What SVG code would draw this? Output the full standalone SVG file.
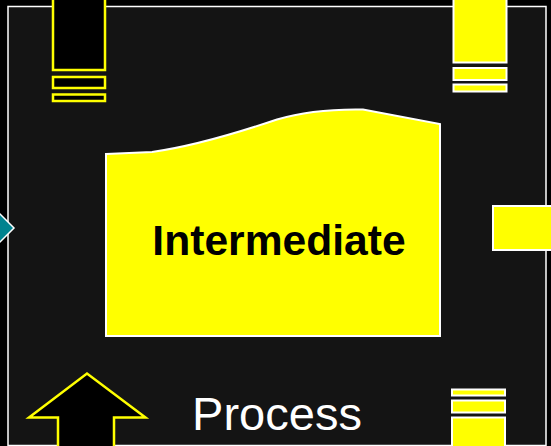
<svg xmlns="http://www.w3.org/2000/svg" width="551" height="446" viewBox="0 0 551 446">
<style>
.yo{fill:#000;stroke:#ffff00;stroke-width:2.5}
.yw{fill:#ffff00;stroke:#ffffff;stroke-width:2}
.t{font-family:"Liberation Sans",Arial,sans-serif}
</style>
<rect x="0" y="0" width="551" height="446" fill="#000"/>
<rect id="frame" x="8" y="6.5" width="538" height="439" fill="#141414" stroke="#ffffff" stroke-width="1.5"/>
<g id="diamond-left">
<polygon points="-18,228 -2,212 14,228 -2,244" fill="#00838f" stroke="#ffffff" stroke-width="1.5"/>
</g>
<g id="top-left-port">
<rect class="yo" x="53" y="-5" width="52" height="75"/>
<rect class="yo" x="53" y="77" width="52" height="11"/>
<rect class="yo" x="53" y="94.5" width="52" height="6.5"/>
</g>
<g id="top-right-port">
<rect class="yw" x="453.5" y="-5" width="53" height="67.5"/>
<rect class="yw" x="453.5" y="68" width="53" height="12"/>
<rect class="yw" x="453.5" y="84.5" width="53" height="7"/>
</g>
<g id="right-port">
<rect class="yw" x="493" y="206" width="65" height="44"/>
</g>
<g id="intermediate">
<path class="yw" d="M106,154 L152,152 C195,146 240,132 277,119.5 C305,111 335,109 363,109.5 L440,124 L440,336 L106,336 Z"/>
<text class="t" x="279" y="254.5" font-size="42.6" font-weight="bold" text-anchor="middle" fill="#000">Intermediate</text>
</g>
<g id="bottom-right-port">
<rect class="yw" x="452" y="389.5" width="53" height="6"/>
<rect class="yw" x="452" y="400.5" width="53" height="12"/>
<rect class="yw" x="452" y="417.5" width="53" height="40"/>
</g>
<g id="connectors">
<polygon class="yo" points="58,460 58,417.5 29,417.5 87,373.5 145.5,417.5 114,417.5 114,460" stroke-width="3"/>
</g>
<g id="process">
<text class="t" x="277" y="429.5" font-size="47" text-anchor="middle" fill="#ffffff">Process</text>
</g>
</svg>
